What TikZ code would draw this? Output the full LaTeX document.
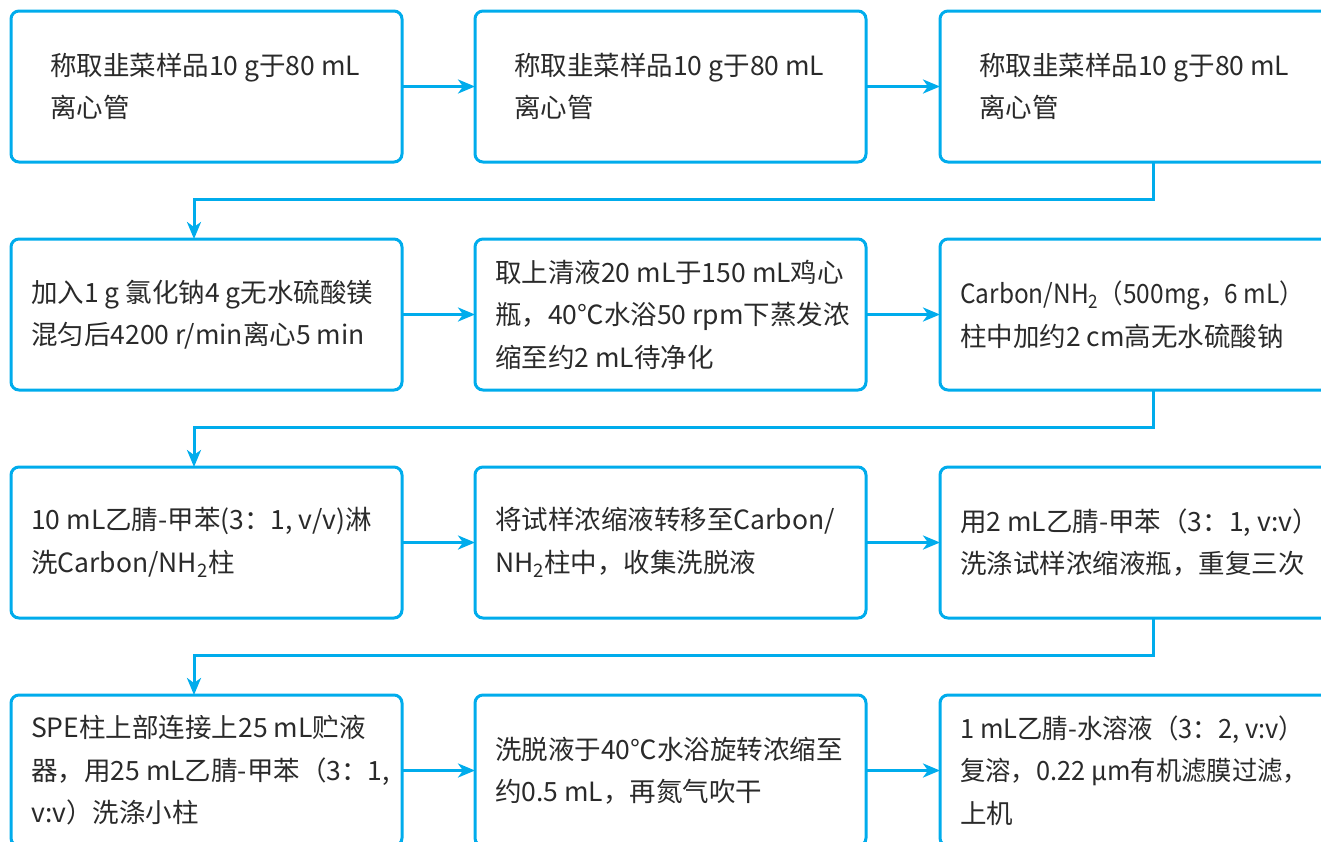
\documentclass[tikz,border=0pt]{standalone}
\usepackage{fontspec}
\usepackage{graphicx}
\setmainfont{Noto Sans CJK SC}
\usetikzlibrary{arrows.meta,calc}
\definecolor{cyanline}{RGB}{0,172,236}
\definecolor{textgray}{RGB}{42,42,42}
\newcommand{\fitline}[2]{\resizebox{#1}{\height}{#2}}
\tikzset{
  box/.style={draw=cyanline, line width=3pt, rounded corners=8pt, anchor=north west,
    minimum width=391pt, minimum height=151pt, inner sep=0pt, outer sep=0pt},
  widebox/.style={box, minimum width=430pt},
  txt/.style={anchor=west, align=left, inner sep=0pt, text=textgray,
    font=\fontsize{26.5}{42.5}\selectfont},
  arr/.style={draw=cyanline, line width=3pt, -{Stealth[length=17pt,width=14pt,inset=5pt]}},
}
\begin{document}
\begin{tikzpicture}[x=1pt,y=-1pt]
\useasboundingbox (0,0) rectangle (1321,841);
\clip (0,0) rectangle (1321,841);
% row 1
\node[box] (b11) at (11,11) {};
\node[box] (b12) at (475,11) {};
\node[widebox] (b13) at (940,11) {};
% row 2
\node[box] (b21) at (11,239) {};
\node[box] (b22) at (475,239) {};
\node[widebox] (b23) at (940,239) {};
% row 3
\node[box] (b31) at (11,467) {};
\node[box] (b32) at (475,467) {};
\node[widebox] (b33) at (940,467) {};
% row 4
\node[box] (b41) at (11,695) {};
\node[box] (b42) at (475,695) {};
\node[widebox] (b43) at (940,695) {};

% texts
\node[txt] (t11) at ($(b11.west)+(39,0)$) {称取韭菜样品10 g于80 mL\\离心管};
\node[txt] (t12) at ($(b12.west)+(39,0)$) {称取韭菜样品10 g于80 mL\\离心管};
\node[txt] (t13) at ($(b13.west)+(39,0)$) {称取韭菜样品10 g于80 mL\\离心管};

\node[txt] (t21) at ($(b21.west)+(20,0)$) {加入1 g 氯化钠4 g无水硫酸镁\\混匀后4200 r/min离心5 min};
\node[txt] (t22) at ($(b22.west)+(20,0)$) {取上清液20 mL于150 mL鸡心\\瓶，40℃水浴50 rpm下蒸发浓\\缩至约2 mL待净化};
\node[txt] (t23) at ($(b23.west)+(20,0)$) {\fitline{344pt}{Carbon/NH\textsubscript{2}（500mg，6 mL）}\\柱中加约2 cm高无水硫酸钠};

\node[txt] (t31) at ($(b31.west)+(20,0)$) {10 mL乙腈-甲苯(3：1, v/v)淋\\洗Carbon/NH\textsubscript{2}柱};
\node[txt] (t32) at ($(b32.west)+(20,0)$) {将试样浓缩液转移至Carbon/\\NH\textsubscript{2}柱中，收集洗脱液};
\node[txt] (t33) at ($(b33.west)+(20,0)$) {用2 mL乙腈-甲苯（3：1, v:v）\\洗涤试样浓缩液瓶，重复三次};

\node[txt] (t41) at ($(b41.west)+(20,0)$) {SPE柱上部连接上25 mL贮液\\器，用25 mL乙腈-甲苯（3：1,\\v:v）洗涤小柱};
\node[txt] (t42) at ($(b42.west)+(20,0)$) {洗脱液于40℃水浴旋转浓缩至\\约0.5 mL，再氮气吹干};
\node[txt] (t43) at ($(b43.west)+(20,0)$) {\fitline{344pt}{1 mL乙腈-水溶液（3：2, v:v）}\\\fitline{348pt}{复溶，0.22 μm有机滤膜过滤，}\\上机};

% horizontal arrows
\draw[arr] (b11.east) -- (b12.west);
\draw[arr] (b12.east) -- (b13.west);
\draw[arr] (b21.east) -- (b22.west);
\draw[arr] (b22.east) -- (b23.west);
\draw[arr] (b31.east) -- (b32.west);
\draw[arr] (b32.east) -- (b33.west);
\draw[arr] (b41.east) -- (b42.west);
\draw[arr] (b42.east) -- (b43.west);

% row-to-row connectors
\coordinate (d1) at ($(b13.south west)+(213,0)$);
\coordinate (e1) at ($(b21.north west)+(183,0)$);
\coordinate (d2) at ($(b23.south west)+(213,0)$);
\coordinate (e2) at ($(b31.north west)+(183,0)$);
\coordinate (d3) at ($(b33.south west)+(213,0)$);
\coordinate (e3) at ($(b41.north west)+(183,0)$);
\draw[arr] (d1) -- ++(0,37) -| (e1);
\draw[arr] (d2) -- ++(0,37) -| (e2);
\draw[arr] (d3) -- ++(0,37) -| (e3);
\end{tikzpicture}
\end{document}
